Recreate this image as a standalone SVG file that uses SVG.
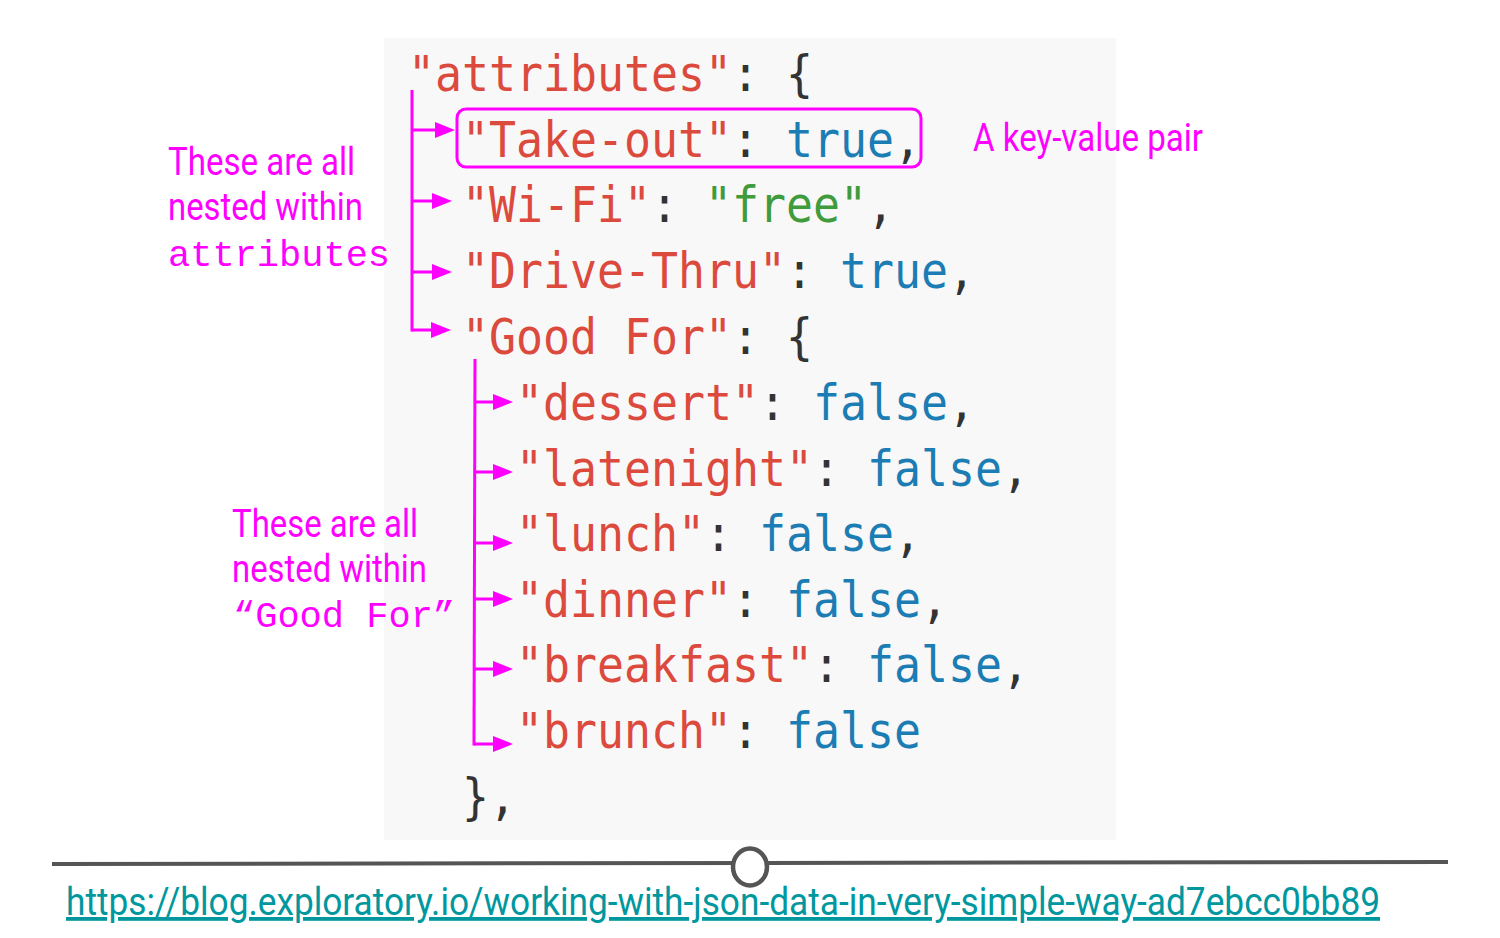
<svg xmlns="http://www.w3.org/2000/svg" width="1500" height="938" viewBox="0 0 1500 938">
<style>
.code{font-family:"DejaVu Sans Mono","Liberation Mono",monospace;font-size:44.85px;}
.k{fill:#dc4a3e}.b{fill:#1b7db3}.s{fill:#3f9b3c}.p{fill:#333333}
.ann{font-family:Roboto,"Liberation Sans",sans-serif;font-size:38px;fill:#ff00ff;}
.annm{font-family:"Liberation Mono","Courier New",monospace;font-size:37px;fill:#ff00ff;}
.con{stroke:#ff00ff;stroke-width:3;fill:none;}
.arr{stroke:#ff00ff;stroke-width:3;fill:none;marker-end:url(#ah);}
</style>
<defs>
<marker id="ah" markerWidth="20" markerHeight="16" refX="12" refY="8" orient="auto" markerUnits="userSpaceOnUse">
<path d="M0,0 L20,8 L0,16 z" fill="#ff00ff"/>
</marker>
</defs>
<rect width="1500" height="938" fill="#ffffff"/>
<g id="code-panel">
<rect x="384" y="38" width="732" height="802" fill="#f8f8f8"/>
<g class="code" transform="scale(1,1.115)">
<text id="line-attributes" x="408" y="81.61"><tspan class="k">"attributes"</tspan><tspan class="p">: {</tspan></text>
<text id="line-takeout" x="462" y="140.81"><tspan class="k">"Take-out"</tspan><tspan class="p">: </tspan><tspan class="b">true</tspan><tspan class="p">,</tspan></text>
<text id="line-wifi" x="462" y="199.10"><tspan class="k">"Wi-Fi"</tspan><tspan class="p">: </tspan><tspan class="s">"free"</tspan><tspan class="p">,</tspan></text>
<text id="line-drivethru" x="462" y="258.30"><tspan class="k">"Drive-Thru"</tspan><tspan class="p">: </tspan><tspan class="b">true</tspan><tspan class="p">,</tspan></text>
<text id="line-goodfor" x="462" y="317.49"><tspan class="k">"Good For"</tspan><tspan class="p">: {</tspan></text>
<text id="line-dessert" x="516" y="376.68"><tspan class="k">"dessert"</tspan><tspan class="p">: </tspan><tspan class="b">false</tspan><tspan class="p">,</tspan></text>
<text id="line-latenight" x="516" y="435.87"><tspan class="k">"latenight"</tspan><tspan class="p">: </tspan><tspan class="b">false</tspan><tspan class="p">,</tspan></text>
<text id="line-lunch" x="516" y="494.17"><tspan class="k">"lunch"</tspan><tspan class="p">: </tspan><tspan class="b">false</tspan><tspan class="p">,</tspan></text>
<text id="line-dinner" x="516" y="553.36"><tspan class="k">"dinner"</tspan><tspan class="p">: </tspan><tspan class="b">false</tspan><tspan class="p">,</tspan></text>
<text id="line-breakfast" x="516" y="611.66"><tspan class="k">"breakfast"</tspan><tspan class="p">: </tspan><tspan class="b">false</tspan><tspan class="p">,</tspan></text>
<text id="line-brunch" x="516" y="670.85"><tspan class="k">"brunch"</tspan><tspan class="p">: </tspan><tspan class="b">false</tspan></text>
<text id="line-close" class="p" x="462" y="730.04">},</text>
</g>
</g>
<g id="kv-box">
<rect x="457" y="109" width="464" height="58" rx="9" ry="9" fill="none" stroke="#ff00ff" stroke-width="3"/>
</g>
<g id="label-kv">
<text class="ann" x="973" y="151" textLength="230" lengthAdjust="spacingAndGlyphs">A key-value pair</text>
</g>
<g id="label-attributes">
<text class="ann" x="168" y="175" textLength="187" lengthAdjust="spacingAndGlyphs">These are all</text>
<text class="ann" x="168" y="220" textLength="195" lengthAdjust="spacingAndGlyphs">nested within</text>
<text class="annm" x="168" y="266">attributes</text>
</g>
<g id="label-goodfor">
<text class="ann" x="232" y="537" textLength="186" lengthAdjust="spacingAndGlyphs">These are all</text>
<text class="ann" x="232" y="582" textLength="195" lengthAdjust="spacingAndGlyphs">nested within</text>
<text class="annm" x="233" y="627">“Good For”</text>
</g>
<g id="connectors">
<line class="con" x1="412" y1="90" x2="412" y2="331.5"/>
<line class="arr" x1="412" y1="130" x2="447" y2="130"/>
<line class="arr" x1="412" y1="201" x2="444" y2="201"/>
<line class="arr" x1="412" y1="272" x2="444" y2="272"/>
<line class="arr" x1="412" y1="330" x2="443" y2="330"/>
<line class="con" x1="475" y1="359" x2="474" y2="745.5"/>
<line class="arr" x1="475" y1="402" x2="505" y2="402"/>
<line class="arr" x1="475" y1="472" x2="505" y2="472"/>
<line class="arr" x1="475" y1="543" x2="505" y2="543"/>
<line class="arr" x1="474" y1="599" x2="505" y2="599"/>
<line class="arr" x1="474" y1="669" x2="505" y2="669"/>
<line class="arr" x1="474" y1="744" x2="505" y2="744"/>
</g>
<g id="footer">
<line x1="52" y1="864" x2="1448" y2="862" stroke="#555555" stroke-width="4"/>
<ellipse cx="750" cy="867" rx="17" ry="18.5" fill="#ffffff" stroke="#555555" stroke-width="4.5"/>
<text x="66" y="915" textLength="1314" lengthAdjust="spacingAndGlyphs" font-family="Roboto, 'Liberation Sans', sans-serif" font-size="38" fill="#00979e" text-decoration="underline">https://blog.exploratory.io/working-with-json-data-in-very-simple-way-ad7ebcc0bb89</text>
</g>
</svg>
